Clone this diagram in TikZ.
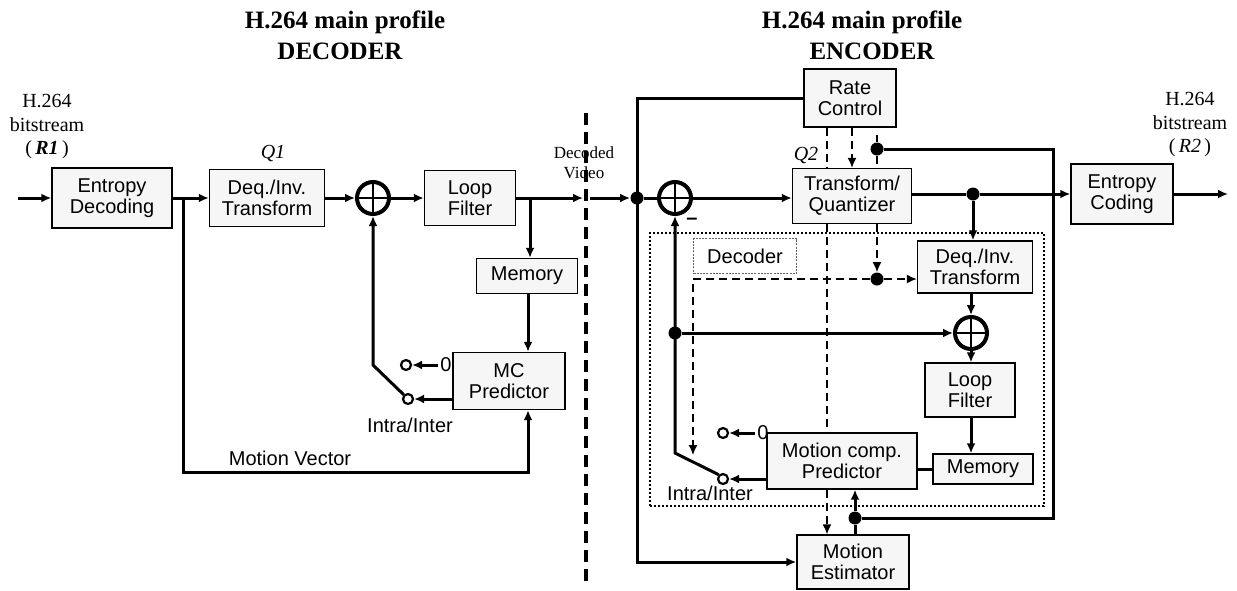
\documentclass[tikz,border=0pt]{standalone}
\usepackage{fontspec}
\setmainfont{Liberation Serif}
\setsansfont{Liberation Sans}
\usetikzlibrary{arrows.meta,positioning}

\tikzset{
  blk/.style={draw, line width=0.7pt, fill=gray!7, align=center, inner sep=0pt,
    font=\sffamily\fontsize{10}{10.5}\selectfont},
  sig/.style={line width=1.5pt},
  ctl/.style={line width=0.75pt, dash pattern=on 4pt off 2.5pt},
  jdot/.style={circle, fill, inner sep=0pt, minimum size=6.5pt},
  cont/.style={circle, draw, line width=1.1pt, fill=white, inner sep=0pt, minimum size=5pt},
  adder/.style={circle, draw, line width=2pt, inner sep=0pt, minimum size=16pt,
    path picture={\draw[line width=1.1pt] (path picture bounding box.north) -- (path picture bounding box.south)
      (path picture bounding box.west) -- (path picture bounding box.east);}},
  ttl/.style={font=\bfseries\fontsize{12.5}{14}\selectfont},
  lbl/.style={font=\sffamily\fontsize{10}{11}\selectfont, inner sep=1pt},
  bits/.style={font=\fontsize{10}{11.75}\selectfont, align=center, inner sep=0pt},
}

\begin{document}
\begin{tikzpicture}[x=0.5pt,y=-0.5pt,>={Latex[length=5pt,width=4.5pt]}]
    \useasboundingbox (0,0) rectangle (1237,590);

    % titles
    \node[ttl] (dtitle) at (345,22) {H.264 main profile};
    \node[ttl] (dname) at (340,51) {DECODER};
    \node[ttl] (etitle) at (862,22) {H.264 main profile};
    \node[ttl] (ename) at (872,51) {ENCODER};

    % bitstream labels
    \node[bits] (r1lbl) at (47,127) {H.264\\bitstream\\(\,\textbf{\textit{R1}}\,)};
    \node[bits] (r2lbl) at (1190,125) {H.264\\bitstream\\(\,\textit{R2}\,)};

    % ---------------- decoder ----------------
    \node[blk, minimum width=60pt, minimum height=30pt] (entdec) at (112,198) {Entropy\\Decoding};
    \node[blk, minimum width=57.5pt, minimum height=28.5pt] (deqdec) at (267,198) {Deq./Inv.\\Transform};
    \node[font=\itshape\fontsize{10}{12}\selectfont] (q1lbl) at (273,153) {Q1};
    \node[adder] (sumd) at (373,198) {};
    \node[blk, minimum width=45.5pt, minimum height=27.5pt] (lfdec) at (470,198) {Loop\\Filter};
    \node[blk, minimum width=50.5pt, minimum height=17.5pt] (memdec) at (527,276) {Memory};
    \node[blk, minimum width=56pt, minimum height=28.5pt] (mcdec) at (509,381) {MC\\Predictor};

    \coordinate (ind) at (18,198);
    \coordinate (br1) at (183,198);
    \coordinate (br2) at (530,198);
    \coordinate (mvd) at (528,472);
    \coordinate (dvin) at (583,198);
    \coordinate (kneed) at (373,365);

    \draw[sig,->] (ind) -- (entdec);
    \draw[sig,->] (entdec) -- (deqdec);
    \draw[sig,->] (deqdec) -- (sumd);
    \draw[sig,->] (sumd) -- (lfdec);
    \draw[sig,->] (lfdec) -- (dvin);
    \draw[sig,->] (br2) -- (br2 |- memdec.north);
    \draw[sig,->] (memdec.south -| mvd) -- (mvd |- mcdec.north);
    \draw[sig,->] (br1) |- (mvd) -- (mvd |- mcdec.south);
    \node[lbl] (mvlbl) at (290,458) {Motion Vector};

    % decoder switch
    \node[cont] (swd0) at (406,365) {};
    \node[cont] (swd1) at (408,399) {};
    \node[lbl] (zerod) at (446,365) {0};
    \draw[sig,->] (zerod.west) -- (swd0.east);
    \draw[sig,->] (swd1 -| mcdec.west) -- (swd1.east);
    \draw[sig,->] (swd1.north west) -- (kneed) -- (sumd.south);
    \node[lbl] (iid) at (410,425) {Intra/Inter};

    % separator
    \draw[line width=2pt, dash pattern=on 6pt off 3.5pt] (586,113) -- (586,585);
    \node[font=\fontsize{8.5}{10}\selectfont, align=center] (dvlbl) at (584,163) {Decoded\\Video};

    % ---------------- encoder ----------------
    \node[draw, line width=1pt, dash pattern=on 1pt off 1pt, inner sep=0pt,
      minimum width=197pt, minimum height=136.5pt] (decreg) at (847,369.5) {};
    \node[draw=black!60, line width=0.6pt, dash pattern=on 1pt off 0.6pt, fill=white, inner sep=0pt,
      minimum width=51.5pt, minimum height=17.5pt, font=\sffamily\fontsize{10}{11}\selectfont] (declbl) at (745,256) {Decoder};

    \node[blk, minimum width=46pt, minimum height=29pt] (rc) at (850,98) {Rate\\Control};
    \node[blk, minimum width=59.5pt, minimum height=27.5pt] (tq) at (852,196) {Transform/\\Quantizer};
    \node[font=\itshape\fontsize{10}{12}\selectfont] (q2lbl) at (806,155) {Q2};
    \node[blk, minimum width=51pt, minimum height=30pt] (entc) at (1122,194) {Entropy\\Coding};
    \node[blk, minimum width=57.5pt, minimum height=26pt] (deqe) at (975,267) {Deq./Inv.\\Transform};
    \node[adder] (sumr) at (971,333) {};
    \node[blk, minimum width=45pt, minimum height=27pt] (lfe) at (970,390) {Loop\\Filter};
    \node[blk, minimum width=50pt, minimum height=15pt] (meme) at (983,469) {Memory};
    \node[blk, minimum width=75pt, minimum height=28pt] (mce) at (842,461) {Motion comp.\\Predictor};
    \node[blk, minimum width=56pt, minimum height=27pt] (me) at (853,562) {Motion\\Estimator};
    \node[adder] (sume) at (675,198) {};

    \node[jdot] (ind2) at (637,198) {};
    \node[jdot] (outdot) at (973,194) {};
    \node[jdot] (fbdot) at (877,149) {};
    \node[jdot] (qdot) at (877,279) {};
    \node[jdot] (jdot2) at (675,333) {};
    \node[jdot] (medot) at (855,518) {};

    \coordinate (dvout) at (590,198);
    \coordinate (otl) at (637,98);
    \coordinate (obl) at (637,562);
    \coordinate (outc) at (1228,194);
    \coordinate (fbtop) at (877,135);
    \coordinate (fbtr) at (1053,149);
    \coordinate (fbbr) at (1053,518);
    \coordinate (cx) at (827,0);
    \coordinate (qtl) at (693,279);
    \coordinate (qbl) at (693,455);
    \coordinate (kneee) at (675,453);

    % main path
    \draw[sig,->] (dvout) -- (ind2.west);
    \draw[sig] (ind2) -- (sume);
    \draw[sig,->] (sume) -- (sume -| tq.west);
    \draw[sig] (tq.east |- outdot) -- (outdot);
    \draw[sig,->] (outdot) -- (entc);
    \draw[sig,->] (entc) -- (outc);
    \draw[sig,->] (rc.west) -- (otl) -- (obl) -- (me.west);

    % reconstruction loop
    \draw[sig,->] (outdot) -- (outdot |- deqe.north);
    \draw[sig,->] (sumr |- deqe.south) -- (sumr);
    \draw[sig,->] (sumr) -- (sumr |- lfe.north);
    \draw[sig,->] (lfe.south -| sumr) -- (sumr |- meme.north);
    \draw[sig] (meme.west) -- (meme.west -| mce.east);
    \draw[sig,->] (jdot2) -- (sumr);

    % motion vectors
    \draw[sig] (fbdot) -- (fbtr) -- (fbbr) -- (medot);
    \draw[sig,->] (medot) -- (medot |- mce.south);
    \draw[sig] (medot) -- (medot |- me.north);

    % control (dashed)
    \draw[ctl] (rc.south -| cx) -- (tq.north -| cx);
    \draw[ctl] (tq.south -| cx) -- (mce.north -| cx);
    \draw[ctl,->] (mce.south -| cx) -- (me.north -| cx);
    \draw[ctl,->] (rc.south -| tq.north) -- (tq.north);
    \draw[ctl] (fbtop) -- (fbdot) -- (fbdot |- tq.north);
    \draw[ctl,->] (qdot |- tq.south) -- (qdot);
    \draw[ctl,->] (qdot) -- (qdot -| deqe.west);
    \draw[ctl,->] (qdot) -- (qtl) -- (qbl);

    % encoder switch
    \node[cont] (swe0) at (723,433) {};
    \node[cont] (swe1) at (723,479) {};
    \node[lbl] (zeroe) at (763,433) {0};
    \draw[sig,->] (zeroe.west) -- (swe0.east);
    \draw[sig,->] (swe1 -| mce.west) -- (swe1.east);
    \draw[sig,->] (swe1.north west) -- (kneee) -- (sume.south);
    \node[lbl] (iie) at (710,493) {Intra/Inter};
    \node[font=\sffamily\bfseries\fontsize{10}{11}\selectfont] (minus) at (692,221) {--};

\end{tikzpicture}
\end{document}
